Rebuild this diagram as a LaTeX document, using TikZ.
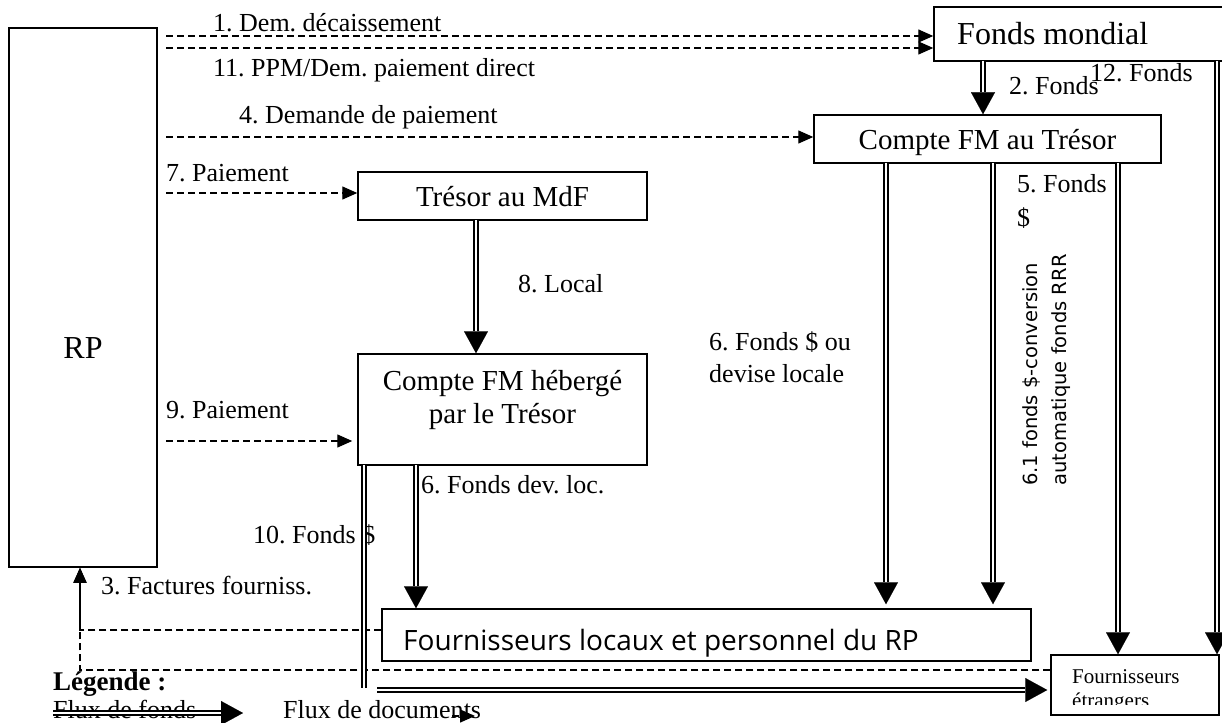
\documentclass[tikz,border=0pt]{standalone}
\usepackage{fontspec}
\setmainfont{Liberation Serif}
\newfontfamily\opensans{Open Sans}
\newfontfamily\dejavu{DejaVu Sans}
\usetikzlibrary{arrows.meta,calc}
\frenchspacing
\begin{document}
\begin{tikzpicture}[x=1pt,y=-1pt,
  box/.style={draw,line width=1.5pt,inner sep=0pt},
  lbl/.style={inner sep=0pt,font=\fontsize{26}{30}\selectfont},
  boxtxt/.style={inner sep=0pt,font=\fontsize{29}{33}\selectfont},
  doc/.style={line width=1.4pt,dash pattern=on 7pt off 4pt,-{Triangle[length=15pt,width=13pt]}},
  fundline/.style={double,double distance=2.2pt,line width=1.6pt},
  fund/.style={fundline,-{Triangle[length=22pt,width=24pt,line width=0.1pt]}}]
\useasboundingbox (0,0) rectangle (1222,722);
\fill[white] (0,0) rectangle (1222,722);

% boxes
\node[box,minimum width=148pt,minimum height=539pt] (rp) at (83,297.5) {};
\node[inner sep=0pt,font=\fontsize{32}{36}\selectfont] (rptxt) at (83,348) {RP};
\node[box,minimum width=290pt,minimum height=54pt] (fm) at (1079,34) {};
\node[inner sep=0pt,anchor=base west,font=\fontsize{32}{36}\selectfont] (fmtxt) at (957,45) {Fonds mondial};
\node[box,minimum width=347pt,minimum height=48pt] (cft) at (987.5,139) {};
\node[boxtxt,anchor=base] (cfttxt) at (987.5,150) {Compte FM au Trésor};
\node[box,minimum width=289pt,minimum height=48pt] (tmdf) at (502.5,196) {};
\node[boxtxt,anchor=base] (tmdftxt) at (502.5,206) {Trésor au MdF};
\node[box,minimum width=289pt,minimum height=111pt] (heb) at (502.5,409.5) {};
\node[boxtxt,align=center] (hebtxt) at (502.5,400) {Compte FM hébergé\\par le Trésor};
\node[box,minimum width=649pt,minimum height=52pt] (loc) at (706.5,635) {};
\node[inner sep=0pt,anchor=base west,font=\opensans\fontsize{28}{32}\selectfont] (loctxt) at (403,650) {Fournisseurs locaux et personnel du RP};
\node[box,minimum width=168pt,minimum height=60pt] (etr) at (1135,685) {};
\begin{scope}
\clip (1052,656) rectangle (1218,704);
\node[inner sep=0pt,anchor=west,align=left,font=\fontsize{21}{24}\selectfont] (etrtxt) at (1072,691) {Fournisseurs\\étrangers};
\end{scope}

% labels
\node[lbl,anchor=base west] (l1) at (213,32) {1. Dem. décaissement};
\node[lbl,anchor=base west] (l11) at (213,77) {11. PPM/Dem. paiement direct};
\node[lbl,anchor=base west] (l4) at (239,124) {4. Demande de paiement};
\node[lbl,anchor=base west] (l7) at (166,182) {7. Paiement};
\node[lbl,anchor=base west] (l9) at (166,418) {9. Paiement};
\node[lbl,anchor=base west] (l8) at (518,292) {8. Local};
\node[lbl,anchor=base west] (l2) at (1009,95) {2. Fonds};
\node[lbl,anchor=base west] (l12) at (1090,82) {12. Fonds};
\node[lbl,anchor=base west] (l10) at (253,543) {10. Fonds \$};
\node[lbl,anchor=base west] (l6dl) at (421,493) {6. Fonds dev. loc.};
\node[lbl,anchor=base west] (l3) at (101,594) {3. Factures fourniss.};
\node[lbl,anchor=west,align=left,font=\fontsize{26}{34}\selectfont] (l5) at (1017,201.5) {5. Fonds\\\$};
\node[lbl,anchor=west,align=left,font=\fontsize{26}{32}\selectfont] (l6) at (709,357.5) {6. Fonds \$ ou\\devise locale};
\node[inner sep=0pt,anchor=west,align=left,rotate=90,font=\dejavu\fontsize{19.5}{29}\selectfont] (l61) at (1047,486) {6.1 fonds \$-conversion\\automatique fonds RRR};
\node[lbl,anchor=base west,font=\bfseries\fontsize{27}{30}\selectfont] (leg) at (53,690) {Légende :};
\node[lbl,anchor=base west] (legf) at (53,718) {Flux de fonds};
\node[lbl,anchor=base west] (legd) at (283,718) {Flux de documents};

% document flows
\coordinate (s1) at (166,36);
\coordinate (s11) at (166,48);
\coordinate (s4) at (166,137);
\coordinate (s7) at (166,193);
\coordinate (s9) at (166,441);
\draw[doc] (s1) -- (s1 -| fm.west);
\draw[doc] (s11) -- (s11 -| fm.west);
\draw[doc] (s4) -- (s4 -| cft.west);
\draw[doc] (s7) -- (s7 -| tmdf.west);
\draw[doc,shorten >=5pt] (s9) -- (s9 -| heb.west);
\draw[doc] ([yshift=5pt]loc.west) -| ([xshift=-3pt]rp.south);
\draw[doc] ([yshift=15pt]etr.west) -| ([xshift=-3pt]rp.south);

% fund flows
\coordinate (c2) at (983,61);
\coordinate (c8) at (476,220);
\coordinate (c6dl) at (416,465);
\coordinate (c6) at (886,163);
\coordinate (c61) at (993,163);
\coordinate (c5) at (1118,163);
\coordinate (c12) at (1217,61);
\coordinate (c10a) at (364,465);
\coordinate (c10b) at (364,688);
\coordinate (c10c) at (377,690);
\draw[fund] (c2) -- (c2 |- cft.north);
\draw[fund] (c8) -- (c8 |- heb.north);
\draw[fund] (c6dl) -- (c6dl |- loc.north);
\draw[fund,shorten >=4pt] (c6) -- (c6 |- loc.north);
\draw[fund,shorten >=4pt] (c61) -- (c61 |- loc.north);
\draw[fund] (c5) -- (c5 |- etr.north);
\draw[fund] (c12) -- (c12 |- etr.north);
\draw[fundline] (c10a) -- (c10b);
\draw[fund,shorten >=3pt] (c10c) -- (c10c -| etr.west);

% legend arrows
\coordinate (lf1) at (53,713);
\coordinate (lf2) at (243,713);
\draw[fund] (lf1) -- (lf2);
\coordinate (ld1) at (452,716);
\coordinate (ld2) at (475,716);
\draw[doc] (ld1) -- (ld2);
\end{tikzpicture}
\end{document}
